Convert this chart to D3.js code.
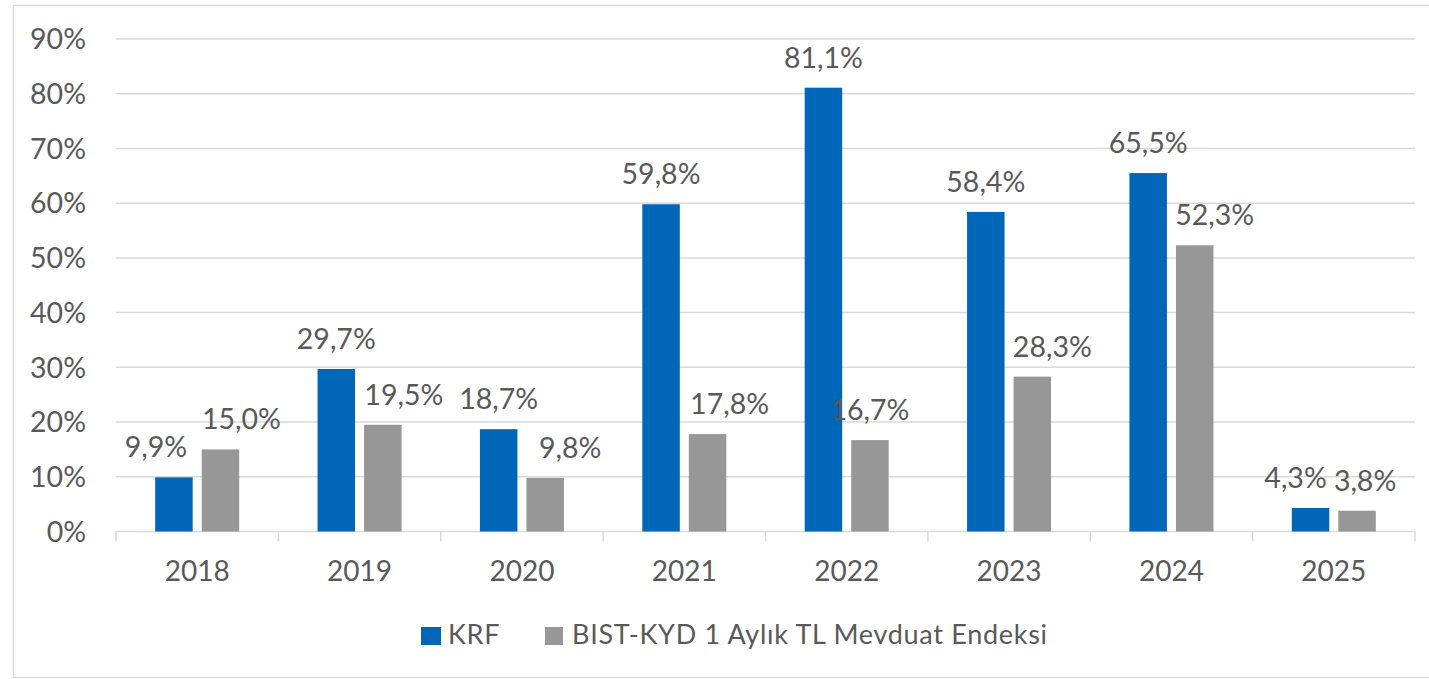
<!DOCTYPE html>
<html><head><meta charset="utf-8">
<script src="https://cdn.jsdelivr.net/npm/d3@7/dist/d3.min.js"></script>
<style>html,body{margin:0;padding:0;background:#fff;}svg{display:block;font-family:Lato,"Open Sans",sans-serif;}</style>
</head><body><svg id="c" width="1429" height="679"></svg>
<script>
const years = ["2018","2019","2020","2021","2022","2023","2024","2025"];
const seriesNames = ["KRF","BIST-KYD 1 Aylık TL Mevduat Endeksi"];
const krf = [9.9, 29.7, 18.7, 59.8, 81.1, 58.4, 65.5, 4.3];
const bist = [15.0, 19.5, 9.8, 17.8, 16.7, 28.3, 52.3, 3.8];
const yTicks = [0,10,20,30,40,50,60,70,80,90];
// manual horizontal label nudges (px) as in the original
const nudgeKRF = [-18, 0, 0, 0, 0, 0, 0, -15];
const nudgeBIST = [21, 21, 25, 22, 0, 20, 20, 8];

(function(){
const colors = ["#0066b8", "#979797"];
const textColor = "#595959";
const gridColor = "#d9d9d9";

const svg = d3.select("#c");
svg.append("rect").attr("x",13.5).attr("y",5.5).attr("width",1430).attr("height",672)
  .attr("fill","#fff").attr("stroke",gridColor).attr("stroke-width",1.5);

const pl = 116, pr = 1415, pt = 39, pb = 531.5;
const x0 = d3.scaleBand().domain(years).range([pl,pr]).padding(0);
const x1 = d3.scaleBand().domain([0,1]).range([-42,42]).paddingInner(0.194).paddingOuter(0);
const y = d3.scaleLinear().domain([0,90]).range([pb,pt]);

svg.append("g").selectAll("line").data(yTicks.filter(d=>d>0)).join("line")
  .attr("x1",pl).attr("x2",pr).attr("y1",d=>y(d)).attr("y2",d=>y(d))
  .attr("stroke",gridColor).attr("stroke-width",1.5);

svg.append("g").selectAll("text").data(yTicks).join("text")
  .attr("x",86).attr("y",d=>y(d)).attr("dy","0.36em").attr("text-anchor","end")
  .attr("font-size",28.5).attr("fill",textColor).text(d=>d+"%");

const xAxis = d3.axisBottom(x0).tickSize(0).tickPadding(0).tickFormat(()=>"");
const gx = svg.append("g").attr("transform",`translate(0,${pb})`).call(xAxis);
gx.select(".domain").attr("stroke",gridColor).attr("stroke-width",1.5).attr("d",`M${pl},0H${pr}`);
const bounds = years.map(d=>x0(d)).concat([pr]);
gx.selectAll("line.tk").data(bounds).join("line").attr("class","tk")
  .attr("x1",d=>d).attr("x2",d=>d).attr("y1",0).attr("y2",10)
  .attr("stroke",gridColor).attr("stroke-width",1.5);
svg.append("g").selectAll("text").data(years).join("text")
  .attr("x",d=>x0(d)+x0.bandwidth()/2).attr("y",581).attr("text-anchor","middle")
  .attr("font-size",28).attr("fill",textColor).text(d=>d);

const series = [krf, bist];
const nudges = [nudgeKRF, nudgeBIST];
series.forEach((vals, si) => {
  const g = svg.append("g");
  g.selectAll("rect").data(vals).join("rect")
    .attr("x",(d,i)=>x0(years[i])+x0.bandwidth()/2+x1(si))
    .attr("width",x1.bandwidth())
    .attr("y",d=>y(d)).attr("height",d=>pb-y(d))
    .attr("fill",colors[si]);
  g.selectAll("text").data(vals).join("text")
    .attr("x",(d,i)=>x0(years[i])+x0.bandwidth()/2+x1(si)+x1.bandwidth()/2+nudges[si][i])
    .attr("y",d=>y(d)-20).attr("text-anchor","middle")
    .attr("font-size",28.5).attr("fill",textColor)
    .text(d=>d.toFixed(1).replace(".",",")+"%");
});

const legend = svg.append("g");
const legX = [421, 545];
const legW = [20, 18];
seriesNames.forEach((n,i)=>{
  legend.append("rect").attr("x",legX[i]).attr("y",627).attr("width",legW[i]).attr("height",18).attr("fill",colors[i]);
  legend.append("text").attr("x",legX[i]+(i===0?27:27)).attr("y",644).attr("font-size",27)
    .attr("letter-spacing",0.7).attr("fill",textColor).text(n);
});
})();
</script></body></html>
